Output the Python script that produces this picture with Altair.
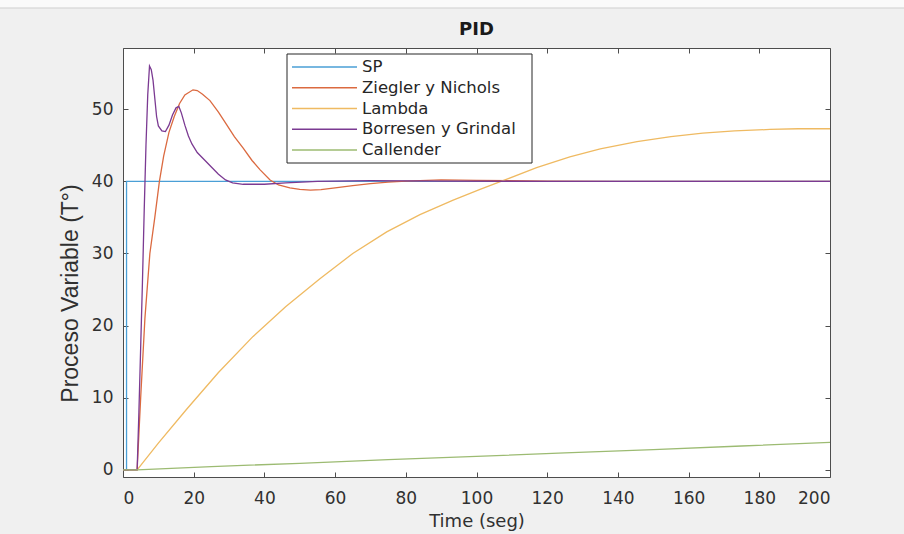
import altair as alt
import pandas as pd

# ---- data ----
names = ["SP", "Ziegler y Nichols", "Lambda", "Borresen y Grindal", "Callender"]
colors = ["#4A9FD6", "#DB6A40", "#EFBA62", "#7B3A92", "#9CBB72"]
title_text = "PID"

sp_t = [0, 1, 1, 200]
sp_y = [0, 0, 40, 40]

zn_t = [0, 4, 5, 6.2, 7.6, 9, 10.3, 11.5, 13, 14.5, 16, 17.5, 19.8, 21, 22.5, 24.6, 27, 29.4,
        31.5, 34, 36.5, 38.8, 41.6, 44, 47.2, 50, 53, 56, 60, 65, 70, 75, 80, 90, 100, 120, 140, 200]
zn_y = [0, 0, 10, 21, 30, 35, 40, 43.5, 46.8, 49, 50.8, 52, 52.7, 52.6, 52.1, 51.2, 49.6, 47.8,
        46.2, 44.6, 42.9, 41.6, 40.2, 39.5, 39.1, 38.9, 38.8, 38.85, 39.1, 39.4, 39.7, 39.9, 40.05,
        40.2, 40.15, 40.05, 40, 40]

la_t = [0, 4, 10, 18, 27, 36.8, 46, 55.7, 65, 74.6, 84, 93.4, 101, 108.6, 117, 126.4, 135,
        145.4, 155, 164, 173, 183, 191, 200]
la_y = [0, 0, 3.7, 8.4, 13.5, 18.5, 22.6, 26.5, 30.0, 33.0, 35.4, 37.4, 38.9, 40.3, 41.9, 43.4,
        44.5, 45.5, 46.2, 46.7, 47.0, 47.2, 47.3, 47.3]

bg_t = [0, 4, 4.5, 5, 5.5, 6, 6.5, 7, 7.5, 8, 8.5, 9, 9.5, 10, 11, 12, 13, 14, 15, 15.8, 16.5,
        17.5, 18.5, 19.5, 21, 23, 25, 27, 29, 31, 34, 40, 46, 55, 70, 90, 120, 200]
bg_y = [0, 0, 8, 17, 26, 36, 45, 52, 56, 55.5, 54, 51.5, 49, 47.7, 47, 46.9, 47.8, 49.2, 50.2,
        50.4, 49.5, 47.8, 46.3, 45.2, 44, 43, 42, 41, 40.2, 39.8, 39.6, 39.6, 39.8, 40, 40.1,
        40.05, 40, 40]

ca_t = [0, 4, 25, 50, 75, 100, 125, 150, 175, 200]
ca_y = [0, 0, 0.45, 0.9, 1.4, 1.85, 2.35, 2.8, 3.3, 3.8]

x_ticks = [0, 20, 40, 60, 80, 100, 120, 140, 160, 180, 200]
y_ticks = [0, 10, 20, 30, 40, 50]

series_t = [sp_t, zn_t, la_t, bg_t, ca_t]
series_y = [sp_y, zn_y, la_y, bg_y, ca_y]

rows = []
for k, (name, ts, ys) in enumerate(zip(names, series_t, series_y)):
    for i, (t, y) in enumerate(zip(ts, ys)):
        rows.append({"serie": name, "k": k, "i": i, "t": t, "y": y})
df = pd.DataFrame(rows)

leg = pd.DataFrame({"serie": names, "row": list(range(len(names)))})

FONT = "DejaVu Sans"
TXT = "#303030"
AX = "#4d4d4d"

x_scale = alt.Scale(domain=[0, 200], nice=False, zero=False)
y_scale = alt.Scale(domain=[-1, 58.5], nice=False, zero=False)
c_scale = alt.Scale(domain=names, range=colors)

x_axis = alt.Axis(values=x_ticks, title="Time (seg)", grid=False, domain=False,
                  tickSize=5, offset=-5, tickColor=AX, labelFont=FONT, labelFontSize=17,
                  labelColor=TXT, labelPadding=13, titleFont=FONT, titleFontSize=18,
                  titleFontWeight="normal", titleColor=TXT, titleBaseline="middle",
                  titleAlign="center", titleX=353.5, titleY=49)
y_axis = alt.Axis(values=y_ticks, title="Proceso Variable (T°)", grid=False, domain=False,
                  tickSize=5, offset=-5, tickColor=AX, labelFont=FONT, labelFontSize=17,
                  labelColor=TXT, labelPadding=10, titleFont="Liberation Sans",
                  titleFontSize=23, titleFontWeight="normal", titleColor=TXT,
                  titleBaseline="middle", titleAlign="center", titleAngle=270,
                  titleX=-58, titleY=245)

lines = alt.Chart(df).mark_line(strokeWidth=1.3).encode(
    x=alt.X("t:Q", scale=x_scale, axis=x_axis),
    y=alt.Y("y:Q", scale=y_scale, axis=y_axis),
    color=alt.Color("serie:N", scale=c_scale, legend=None),
    detail="k:O",
    order="i:Q",
)

frame = alt.Chart(df).mark_point(opacity=0).encode(
    x=alt.X("t:Q", scale=x_scale,
            axis=alt.Axis(orient="top", values=x_ticks, labels=False, title=None, grid=False,
                          domain=False, tickSize=5, offset=-5, tickColor=AX)),
    y=alt.Y("y:Q", scale=y_scale,
            axis=alt.Axis(orient="right", values=y_ticks, labels=False, title=None, grid=False,
                          domain=False, tickSize=5, offset=-5, tickColor=AX)),
)

one = alt.Chart(leg).transform_filter("datum.row == 0")

# window strip at the very top of the figure
strip = one.mark_rect(fill="#fafafa", stroke="#cfcfcf", strokeWidth=1).encode(
    x=alt.value(-130), x2=alt.value(790), y=alt.value(-60), y2=alt.value(-40))

title = one.mark_text(font=FONT, fontSize=18, fontWeight="bold", color="#1a1a1a",
                      align="center", baseline="middle").encode(
    x=alt.value(353.5), y=alt.value(-18), text=alt.value(title_text))

box = one.mark_rect(fill="white", stroke="#262626", strokeWidth=1).encode(
    x=alt.value(164), x2=alt.value(409), y=alt.value(6), y2=alt.value(115))

leg_lines = alt.Chart(leg).transform_calculate(py="19 + datum.row * 20.75").mark_rule(
    strokeWidth=1.3
).encode(
    x=alt.value(169), x2=alt.value(234),
    y=alt.Y("py:Q", scale=None, axis=None),
    color=alt.Color("serie:N", scale=c_scale, legend=None),
)

leg_text = alt.Chart(leg).transform_calculate(py="19 + datum.row * 20.75").mark_text(
    align="left", baseline="middle", font=FONT, fontSize=16.5, color="#262626"
).encode(
    x=alt.value(239),
    y=alt.Y("py:Q", scale=None, axis=None),
    text="serie:N",
)

chart = alt.layer(strip, title, frame, lines, box, leg_lines, leg_text).resolve_axis(
    x="independent", y="independent"
).properties(
    width=707, height=429,
    padding={"left": 123, "top": 48, "right": 74, "bottom": 57},
    autosize=alt.AutoSizeParams(type="none"),
    background="#f0f0f0",
).configure_view(stroke=AX, strokeWidth=1, fill="white")

chart.save("out.html", embed_options={"renderer": "svg", "actions": False})
